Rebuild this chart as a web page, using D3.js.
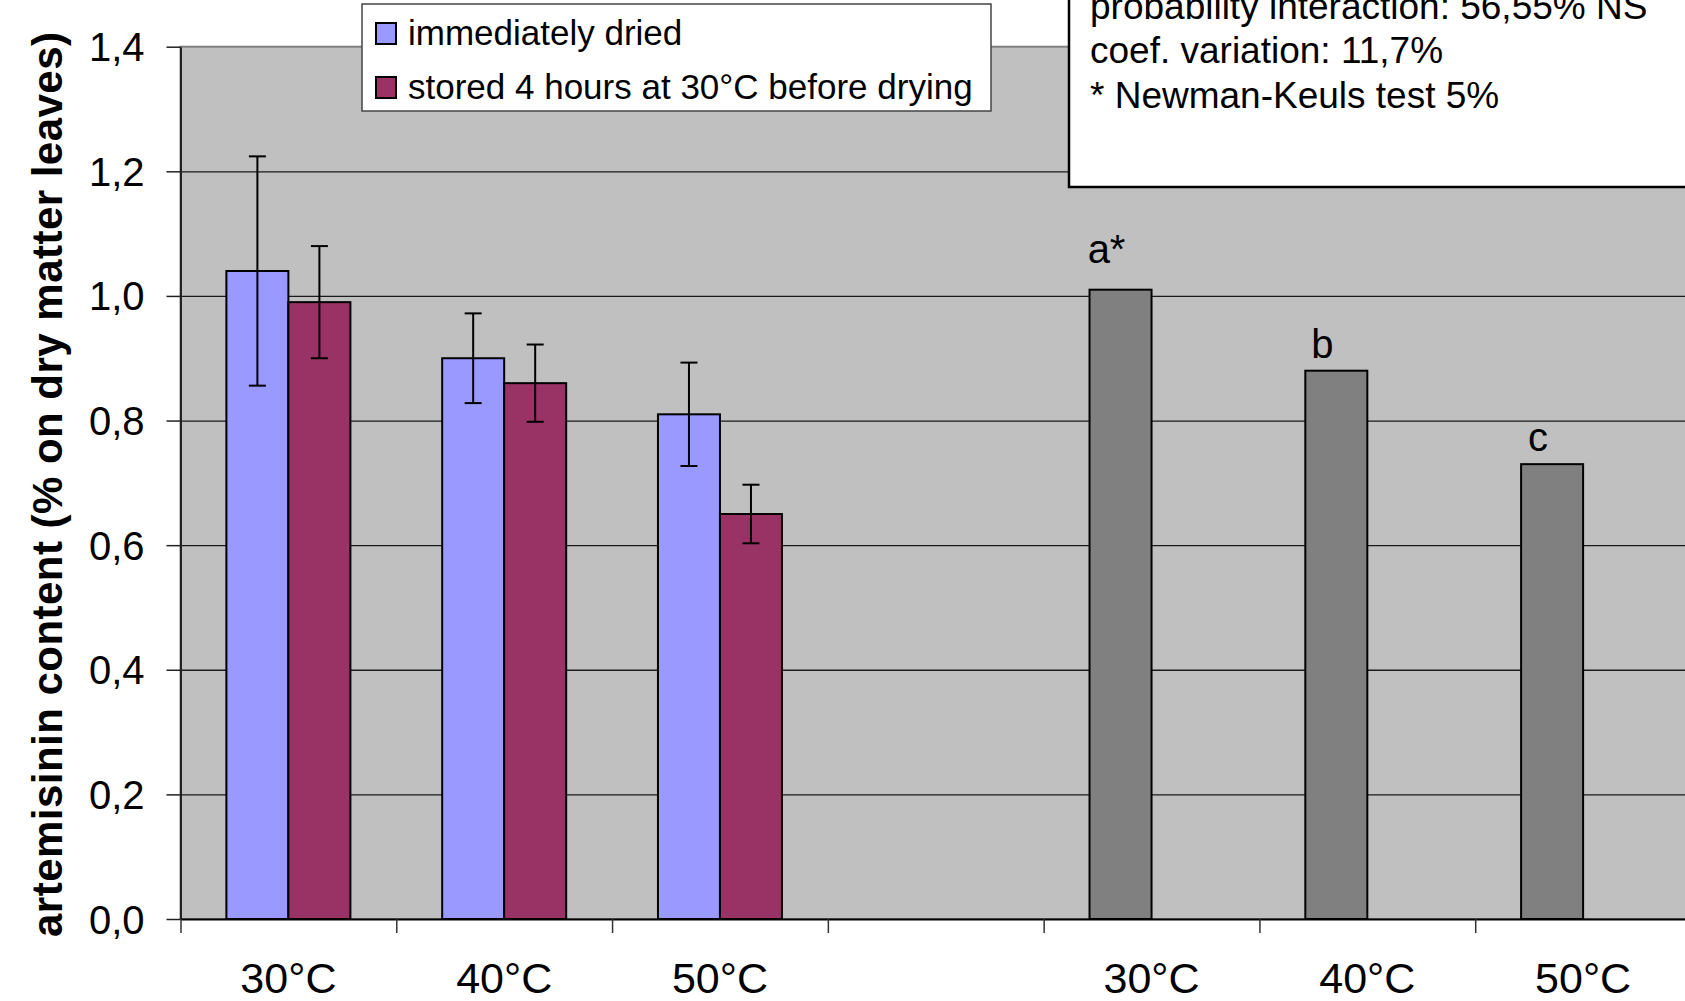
<!DOCTYPE html>
<html>
<head>
<meta charset="utf-8">
<script src="https://cdn.jsdelivr.net/npm/d3@7"></script>
<style>
  html, body { margin: 0; padding: 0; background: #fff; }
  svg { display: block; }
  text { font-family: "Liberation Sans", Arial, Helvetica, sans-serif; fill: #000; }
</style>
</head>
<body>
<svg id="chart" width="1685" height="1001"></svg>
<script>
// ---- data ----
const categories = ["30°C", "40°C", "50°C", "", "30°C", "40°C", "50°C"];
const seriesNames = ["immediately dried", "stored 4 hours at 30°C before drying"];
const immediatelyDried = [1.04, 0.90, 0.81];
const immediatelyDriedErr = [0.184, 0.072, 0.083];
const storedBeforeDrying = [0.99, 0.86, 0.65];
const storedBeforeDryingErr = [0.09, 0.062, 0.047];
const meanByTemperature = [1.01, 0.88, 0.73];
const meanLetters = ["a*", "b", "c"];
const yTicks = [0, 0.2, 0.4, 0.6, 0.8, 1.0, 1.2, 1.4];
const yTickLabels = ["0,0", "0,2", "0,4", "0,6", "0,8", "1,0", "1,2", "1,4"];
const yTitle = "artemisinin content (% on dry matter leaves)";
const statsLines = [
  "probability interaction: 56,55% NS",
  "coef. variation: 11,7%",
  "* Newman-Keuls test 5%"
];

// ---- layout ----
const W = 1685, H = 1001;
const plot = { left: 180.5, top: 46.7, right: 1691, bottom: 919 };
const colors = { s1: "#9999FF", s2: "#993366", mean: "#808080", bg: "#C0C0C0" };

const svg = d3.select("#chart");
svg.append("rect").attr("width", W).attr("height", H).attr("fill", "#fff");

const y = d3.scaleLinear().domain([0, 1.4]).range([plot.bottom, plot.top]);
const x = d3.scaleBand().domain(d3.range(categories.length))
  .range([plot.left, plot.right]).paddingInner(0).paddingOuter(0);
const xSeries = d3.scaleBand().domain(["s1", "s2"])
  .range([0, x.bandwidth()]).paddingInner(0).paddingOuter(0.74);
const xEdges = d3.scaleLinear().domain([0, categories.length]).range([plot.left, plot.right]);

// plot background
svg.append("rect")
  .attr("x", plot.left).attr("y", plot.top)
  .attr("width", plot.right - plot.left).attr("height", plot.bottom - plot.top)
  .attr("fill", colors.bg).attr("stroke", "#808080").attr("stroke-width", 2);

// horizontal gridlines
const grid = svg.append("g").attr("transform", `translate(${plot.left},0)`)
  .call(d3.axisLeft(y).tickValues(yTicks.slice(1, -1))
    .tickSize(-(plot.right - plot.left)).tickFormat(""));
grid.select(".domain").remove();
grid.selectAll("line").attr("stroke", "#1a1a1a").attr("stroke-width", 1.3);

// grouped bars (two storage treatments)
const groups = [
  { key: "s1", values: immediatelyDried, errs: immediatelyDriedErr, color: colors.s1 },
  { key: "s2", values: storedBeforeDrying, errs: storedBeforeDryingErr, color: colors.s2 }
];
const barsG = svg.append("g");
groups.forEach(s => {
  barsG.selectAll(null).data(s.values).enter().append("rect")
    .attr("x", (d, i) => x(i) + xSeries(s.key))
    .attr("y", d => y(d))
    .attr("width", xSeries.bandwidth())
    .attr("height", d => y(0) - y(d))
    .attr("fill", s.color).attr("stroke", "#000").attr("stroke-width", 2);
});

// error bars
const capW = 17;
groups.forEach(s => {
  const eg = barsG.selectAll(null).data(s.values).enter().append("g")
    .attr("transform", (d, i) => `translate(${x(i) + xSeries(s.key) + xSeries.bandwidth() / 2},0)`)
    .attr("stroke", "#000").attr("stroke-width", 2);
  eg.append("line").attr("x1", 0).attr("x2", 0)
    .attr("y1", (d, i) => y(d + s.errs[i])).attr("y2", (d, i) => y(d - s.errs[i]));
  eg.append("line").attr("x1", -capW / 2).attr("x2", capW / 2)
    .attr("y1", (d, i) => y(d + s.errs[i])).attr("y2", (d, i) => y(d + s.errs[i]));
  eg.append("line").attr("x1", -capW / 2).attr("x2", capW / 2)
    .attr("y1", (d, i) => y(d - s.errs[i])).attr("y2", (d, i) => y(d - s.errs[i]));
});

// temperature means (right block)
const meanOffset = 4;
barsG.selectAll(null).data(meanByTemperature).enter().append("rect")
  .attr("x", (d, i) => x(i + meanOffset) + xSeries("s1"))
  .attr("y", d => y(d))
  .attr("width", xSeries.bandwidth())
  .attr("height", d => y(0) - y(d))
  .attr("fill", colors.mean).attr("stroke", "#000").attr("stroke-width", 2);

const letterLift = [27, 13, 13];
svg.append("g").selectAll("text").data(meanByTemperature).enter().append("text")
  .attr("x", (d, i) => x(i + meanOffset) + xSeries("s1") + xSeries.bandwidth() / 2 - 14)
  .attr("y", (d, i) => y(d) - letterLift[i])
  .attr("text-anchor", "middle").attr("font-size", 40)
  .text((d, i) => meanLetters[i]);

// y axis
const yAxis = svg.append("g").attr("transform", `translate(${plot.left},0)`)
  .call(d3.axisLeft(y).tickValues(yTicks).tickFormat((d, i) => yTickLabels[i])
    .tickSize(14).tickSizeOuter(0).tickPadding(22));
yAxis.select(".domain").attr("stroke", "#222").attr("stroke-width", 2);
yAxis.selectAll(".tick line").attr("stroke", "#222").attr("stroke-width", 1.5);
yAxis.selectAll(".tick text").attr("font-size", 40)
  .attr("font-family", "'Liberation Sans', Arial, sans-serif").attr("dy", "0.35em");

// x axis: boundary ticks + centred category labels
const xAxis = svg.append("g").attr("transform", `translate(0,${plot.bottom})`)
  .call(d3.axisBottom(xEdges).tickValues(d3.range(categories.length + 1))
    .tickSize(14).tickSizeOuter(0).tickFormat(""));
xAxis.select(".domain").attr("stroke", "#000").attr("stroke-width", 2);
xAxis.selectAll(".tick line").attr("stroke", "#333").attr("stroke-width", 1.5);

const xLabels = svg.append("g").attr("transform", `translate(0,${plot.bottom})`)
  .call(d3.axisBottom(x).tickSize(0).tickPadding(43).tickFormat(i => categories[i]));
xLabels.select(".domain").remove();
xLabels.selectAll(".tick text").attr("font-size", 43)
  .attr("font-family", "'Liberation Sans', Arial, sans-serif");

// y axis title
svg.append("text")
  .attr("transform", "translate(62,484.5) rotate(-90)")
  .attr("text-anchor", "middle").attr("font-size", 42).attr("font-weight", "bold")
  .attr("textLength", 905).attr("lengthAdjust", "spacing")
  .text(yTitle);

// legend
const legend = svg.append("g");
legend.append("rect").attr("x", 362).attr("y", 4).attr("width", 629).attr("height", 107)
  .attr("fill", "#fff").attr("stroke", "#444").attr("stroke-width", 1.5);
const legendColors = [colors.s1, colors.s2];
seriesNames.forEach((name, i) => {
  legend.append("rect").attr("x", 376).attr("y", 23 + i * 54).attr("width", 20).attr("height", 21)
    .attr("fill", legendColors[i]).attr("stroke", "#000").attr("stroke-width", 2);
  legend.append("text").attr("x", 408).attr("y", 45 + i * 54)
    .attr("font-size", 35).text(name);
});

// statistics box
const stats = svg.append("g");
stats.append("rect").attr("x", 1069).attr("y", -10).attr("width", 700).attr("height", 197)
  .attr("fill", "#fff").attr("stroke", "#000").attr("stroke-width", 2.5);
statsLines.forEach((line, i) => {
  stats.append("text").attr("x", 1090).attr("y", 18.5 + i * 44.5)
    .attr("font-size", 37).text(line);
});
</script>
</body>
</html>
